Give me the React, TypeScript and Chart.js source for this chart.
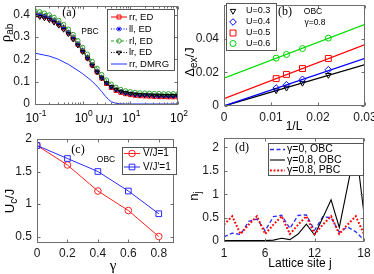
import React, { useEffect, useRef } from 'react';
import { Chart, registerables } from 'chart.js';
import { drawPoint } from 'chart.js/helpers';

Chart.register(...registerables);

const SANS = "'Liberation Sans', Arial, Helvetica, sans-serif";
const SERIF = "'Liberation Serif', 'Times New Roman', serif";
const FRAME = '#6e6e6e';
const INK = '#1a1a1a';
const W = 374;
const H = 274;
const YW = 30;
const XH = 25;

// ---------------- panel (a) ----------------
const uValues = [0.1, 0.126, 0.158, 0.2, 0.251, 0.316, 0.398, 0.501, 0.631, 0.794, 1, 1.26, 1.58, 2, 2.51, 3.16, 3.98, 5.01, 6.31, 7.94, 10, 12.6, 15.8, 20, 25.1, 31.6, 39.8, 50.1, 63.1, 79.4, 100];
const rhoRR = [0.402, 0.398, 0.392, 0.384, 0.373, 0.359, 0.341, 0.320, 0.296, 0.268, 0.238, 0.207, 0.175, 0.144, 0.116, 0.092, 0.074, 0.061, 0.052, 0.046, 0.042, 0.039, 0.037, 0.036, 0.035, 0.034, 0.033, 0.033, 0.032, 0.032, 0.032];
const rhoLL = [0.405, 0.401, 0.395, 0.387, 0.376, 0.362, 0.344, 0.323, 0.299, 0.271, 0.241, 0.210, 0.178, 0.147, 0.119, 0.095, 0.077, 0.064, 0.055, 0.049, 0.045, 0.042, 0.040, 0.039, 0.038, 0.037, 0.036, 0.036, 0.035, 0.035, 0.035];
const rhoRL = [0.418, 0.414, 0.408, 0.400, 0.389, 0.375, 0.357, 0.336, 0.312, 0.284, 0.254, 0.223, 0.191, 0.160, 0.132, 0.108, 0.089, 0.075, 0.065, 0.059, 0.055, 0.052, 0.050, 0.049, 0.048, 0.047, 0.047, 0.046, 0.046, 0.046, 0.046];
const rhoLR = [0.395, 0.391, 0.385, 0.377, 0.366, 0.352, 0.334, 0.314, 0.290, 0.263, 0.234, 0.204, 0.173, 0.143, 0.116, 0.094, 0.077, 0.065, 0.056, 0.050, 0.046, 0.043, 0.041, 0.040, 0.039, 0.038, 0.038, 0.037, 0.037, 0.037, 0.037];
const dmrgU = [0.1, 0.2, 0.3, 0.5, 0.8, 1, 1.5, 2, 2.5, 3, 3.5, 4, 5, 6, 8, 10, 30, 100];
const dmrgRho = [0.228, 0.215, 0.202, 0.178, 0.150, 0.136, 0.106, 0.080, 0.056, 0.035, 0.020, 0.010, 0.003, 0.001, 0, 0, 0, 0];
const aYTicks = [0, 0.1, 0.2, 0.3, 0.4];
const aYLabels = ['0', '0.1', '0.2', '0.3', '0.4'];
const aXTicks = [0.1, 1, 10, 100];
const aXExponents = ['-1', '0', '1', '2'];
const aLegend = ['rr, ED', 'll, ED', 'rl, ED', 'lr, ED', 'rr, DMRG'];

// ---------------- panel (b) ----------------
const invL = [0.0111, 0.0133, 0.0167, 0.0222];
const gapU03 = [0.0092, 0.0108, 0.0137, 0.0184];
const gapU04 = [0.0107, 0.0127, 0.0159, 0.0216];
const gapU05 = [0.0163, 0.0188, 0.0223, 0.0283];
const gapU06 = [0.0285, 0.0307, 0.0342, 0.0404];
const fitInvL = [0, 0.03];
const fitU03 = [0, 0.0246];
const fitU04 = [0, 0.0284];
const fitU05 = [0.0044, 0.0365];
const fitU06 = [0.0166, 0.0486];
const bXTicks = [0, 0.01, 0.02, 0.03];
const bXLabels = ['0', '0.01', '0.02', '0.03'];
const bYTicks = [0, 0.02, 0.04];
const bYLabels = ['0', '0.02', '0.04'];
const bLegend = ['U=0.3', 'U=0.4', 'U=0.5', 'U=0.6'];

// ---------------- panel (c) ----------------
const gammaValues = [0, 0.2, 0.4, 0.6, 0.8];
const ucVJ = [1.9, 1.6, 1.2, 0.9, 0.5];
const ucVJp = [1.9, 1.7, 1.5, 1.2, 0.85];
const cXTicks = [0, 0.2, 0.4, 0.6, 0.8];
const cXLabels = ['0', '0.2', '0.4', '0.6', '0.8'];
const cYTicks = [0.5, 1, 1.5, 2];
const cYLabels = ['0.5', '1', '1.5', '2'];
const cLegend = ['V/J=1', 'V/J\u2032=1'];

// ---------------- panel (d) ----------------
const sites = [1, 2, 3, 4, 5, 6, 7, 8, 9, 10, 11, 12, 13, 14, 15, 16, 17, 18];
const nG0OBC = [0.09, 0.17, 0.14, 0.42, 0.47, 0.22, 0.52, 0.55, 0.27, 0.55, 0.56, 0.23, 0.52, 0.5, 0.19, 0.3, 0.2, 0.02];
const nG08OBC = [0.01, 0.01, 0.01, 0.01, 0.01, 0.01, 0.02, 0.06, 0.03, 0.15, 0.36, 0.13, 0.5, 0.88, 0.29, 1.16, 2.03, 0.58];
const nG08PBC = [0.35, 0.53, 0.15, 0.35, 0.53, 0.15, 0.35, 0.53, 0.15, 0.35, 0.53, 0.15, 0.35, 0.53, 0.15, 0.35, 0.53, 0.15];
const dXTicks = [1, 6, 12, 18];
const dXLabels = ['1', '6', '12', '18'];
const dYTicks = [0, 0.5, 1, 1.5, 2];
const dYLabels = ['0', '0.5', '1', '1.5', '2'];
const dLegend = ['\u03b3=0, OBC', '\u03b3=0.8, OBC', '\u03b3=0.8, PBC'];

// ---------------- helpers ----------------
type Area = { left: number; top: number; right: number; bottom: number };
type Style = { color: string; width?: number; dash?: number[]; line?: boolean; marker?: string; r?: number; rot?: number };
type Part = { t: string; size: number; family?: string; dy?: number };

function pads(a: Area) {
  return { left: a.left - YW, top: a.top, right: W - a.right, bottom: H - a.bottom - XH };
}

function fixFit(axis: 'x' | 'y') {
  return (s: any) => {
    if (axis === 'x') s.height = XH; else s.width = YW;
    s.paddingLeft = 0; s.paddingRight = 0; s.paddingTop = 0; s.paddingBottom = 0;
  };
}

function linAxis(axis: 'x' | 'y', min: number, max: number, ticks: number[], labels: string[], padding: number) {
  return {
    type: 'linear', min, max,
    afterBuildTicks: (s: any) => { s.ticks = ticks.map((v) => ({ value: v })); },
    afterFit: fixFit(axis),
    grid: { display: false, drawTicks: false },
    border: { display: false },
    ticks: {
      autoSkip: false, maxRotation: 0, minRotation: 0, padding, color: INK,
      font: { family: SANS, size: 12 },
      callback: (v: number) => {
        const i = ticks.findIndex((t) => Math.abs(t - v) < 1e-9);
        return i >= 0 ? labels[i] : '';
      },
    },
  };
}

function ds(xs: number[], ys: number[], st: Style, order: number) {
  return {
    data: xs.map((x, i) => ({ x, y: ys[i] })),
    borderColor: st.color,
    borderWidth: st.width ?? 1,
    borderDash: st.dash ?? [],
    showLine: st.line !== false,
    pointStyle: st.marker ?? 'circle',
    pointRadius: st.marker ? st.r : 0,
    pointRotation: st.rot ?? 0,
    pointBorderColor: st.color,
    pointBackgroundColor: 'rgba(0,0,0,0)',
    pointBorderWidth: 1,
    fill: false,
    tension: 0,
    order,
  };
}

function drawRich(ctx: CanvasRenderingContext2D, parts: Part[], x: number, y: number, align: 'left' | 'center' = 'center', rotate = false) {
  ctx.save();
  ctx.fillStyle = '#000';
  ctx.textBaseline = 'middle';
  ctx.textAlign = 'left';
  const fonts = parts.map((p) => `${p.size}px ${p.family ?? SANS}`);
  let total = 0;
  const widths = parts.map((p, i) => { ctx.font = fonts[i]; const w = ctx.measureText(p.t).width; total += w; return w; });
  ctx.translate(x, y);
  if (rotate) ctx.rotate(-Math.PI / 2);
  let cx = align === 'left' ? 0 : -total / 2;
  parts.forEach((p, i) => { ctx.font = fonts[i]; ctx.fillText(p.t, cx, p.dy ?? 0); cx += widths[i]; });
  ctx.restore();
}

function drawFrame(chart: any, xTicks: number[], yTicks: number[], xMinor: number[] = []) {
  const { ctx, chartArea: a } = chart;
  const xs = chart.scales.x;
  const ys = chart.scales.y;
  const L = Math.round(a.left) + 0.5, R = Math.round(a.right) - 0.5, T = Math.round(a.top) + 0.5, B = Math.round(a.bottom) - 0.5;
  ctx.save();
  ctx.strokeStyle = FRAME;
  ctx.lineWidth = 1;
  ctx.setLineDash([]);
  ctx.strokeRect(L, T, R - L, B - T);
  ctx.beginPath();
  const xt = (v: number, len: number) => {
    const px = Math.round(xs.getPixelForValue(v)) + 0.5;
    ctx.moveTo(px, B); ctx.lineTo(px, B - len);
    ctx.moveTo(px, T); ctx.lineTo(px, T + len);
  };
  xTicks.forEach((v) => xt(v, 3));
  xMinor.forEach((v) => xt(v, 2));
  yTicks.forEach((v) => {
    const py = Math.round(ys.getPixelForValue(v)) + 0.5;
    ctx.moveTo(L, py); ctx.lineTo(L + 3, py);
    ctx.moveTo(R, py); ctx.lineTo(R - 3, py);
  });
  ctx.stroke();
  ctx.restore();
}

function drawLegend(ctx: CanvasRenderingContext2D, box: Area, labels: string[], styles: Style[], rows: number[], x0: number, x1: number, tx: number, size: number) {
  ctx.save();
  ctx.fillStyle = '#fff';
  ctx.fillRect(box.left, box.top, box.right - box.left, box.bottom - box.top);
  ctx.strokeStyle = '#555';
  ctx.lineWidth = 1;
  ctx.strokeRect(box.left + 0.5, box.top + 0.5, box.right - box.left, box.bottom - box.top);
  labels.forEach((label, i) => {
    const st = styles[i];
    const y = rows[i];
    if (st.line !== false) {
      ctx.strokeStyle = st.color;
      ctx.lineWidth = st.width ?? 1;
      ctx.setLineDash(st.dash ?? []);
      ctx.beginPath(); ctx.moveTo(x0, y); ctx.lineTo(x1, y); ctx.stroke();
      ctx.setLineDash([]);
    }
    if (st.marker) {
      ctx.strokeStyle = st.color;
      ctx.fillStyle = 'rgba(0,0,0,0)';
      ctx.lineWidth = 1;
      drawPoint(ctx, { pointStyle: st.marker, radius: st.r, rotation: st.rot ?? 0, borderWidth: 1 } as any, (x0 + x1) / 2, y);
    }
    ctx.fillStyle = '#000';
    ctx.font = `${size}px ${SANS}`;
    ctx.textBaseline = 'middle';
    ctx.textAlign = 'left';
    ctx.fillText(label, tx, y);
  });
  ctx.restore();
}

function buildConfig(area: Area, x: any, y: any, datasets: any[], decorate: (chart: any) => void): any {
  return {
    type: 'line',
    data: { datasets },
    options: {
      responsive: false,
      maintainAspectRatio: false,
      animation: false,
      events: [],
      layout: { padding: pads(area) },
      plugins: { legend: { display: false }, tooltip: { enabled: false } },
      scales: { x, y },
    },
    plugins: [{ id: 'decor', afterDraw: (chart: any) => decorate(chart) }],
  };
}

// ---------------- panel configs ----------------
function makeA() {
  const area = { left: 35, top: 6, right: 178, bottom: 105 };
  const styles: Style[] = [
    { color: '#ff0000', marker: 'rect', r: 2.8 },
    { color: '#0000ff', dash: [1, 1.5], marker: 'star', r: 2.4 },
    { color: '#2e9e2e', dash: [3, 2], marker: 'circle', r: 2.2 },
    { color: '#000000', dash: [1, 1.5], marker: 'triangle', r: 2.6, rot: 180 },
    { color: '#1f33ff' },
  ];
  const series = [rhoRR, rhoLL, rhoRL, rhoLR];
  const datasets = series.map((v, i) => ds(uValues, v, styles[i], 10 - i));
  datasets.push(ds(dmrgU, dmrgRho, styles[4], 1));
  const minor: number[] = [];
  [0.1, 1, 10].forEach((d) => { for (let k = 2; k <= 9; k++) minor.push(d * k); });
  const x = {
    type: 'logarithmic', min: 0.1, max: 100,
    afterBuildTicks: (s: any) => { s.ticks = aXTicks.map((v) => ({ value: v, major: true })); },
    afterFit: fixFit('x'),
    grid: { display: false, drawTicks: false },
    border: { display: false },
    ticks: { display: false },
  };
  const y = linAxis('y', -0.0045, 0.44, aYTicks, aYLabels, 5);
  return buildConfig(area, x, y, datasets, (chart) => {
    const ctx = chart.ctx;
    drawFrame(chart, aXTicks, aYTicks, minor);
    aXTicks.forEach((v, i) => {
      drawRich(ctx, [{ t: '10', size: 12 }, { t: aXExponents[i], size: 8.5, dy: -5 }], chart.scales.x.getPixelForValue(v) + 1, 119);
    });
    drawRich(ctx, [{ t: 'U/J', size: 11.5 }], 104, 120);
    drawRich(ctx, [{ t: '\u03c1', size: 15, family: SERIF }, { t: 'ab', size: 10, dy: 4 }], 6, 33, 'center', true);
    drawRich(ctx, [{ t: '(a)', size: 12, family: SERIF }], 69, 13);
    drawRich(ctx, [{ t: 'PBC', size: 8.5 }], 90, 32);
    drawLegend(ctx, { left: 107, top: 9, right: 174, bottom: 70 }, aLegend, styles, [17, 29, 41, 52.5, 64], 111, 127, 129, 9.5);
  });
}

function makeB() {
  const area = { left: 224, top: 2, right: 365, bottom: 106 };
  const mk: Style[] = [
    { color: '#000000', line: false, marker: 'triangle', r: 3.2, rot: 180 },
    { color: '#0000ff', line: false, marker: 'rectRot', r: 3.3 },
    { color: '#ff0000', line: false, marker: 'rect', r: 4.2 },
    { color: '#00d000', line: false, marker: 'circle', r: 3 },
  ];
  const lineColors = ['#000000', '#0000ff', '#ff0000', '#00dd00'];
  const fits = [fitU03, fitU04, fitU05, fitU06];
  const gaps = [gapU03, gapU04, gapU05, gapU06];
  const datasets: any[] = [];
  fits.forEach((f, i) => datasets.push(ds(fitInvL, f, { color: lineColors[i], width: 1.2 }, 20 - i)));
  gaps.forEach((g, i) => datasets.push(ds(invL, g, mk[i], 10 - i)));
  const x = linAxis('x', 0, 0.03, bXTicks, bXLabels, 4);
  const y = linAxis('y', 0, 0.06, bYTicks, bYLabels, 5);
  return buildConfig(area, x, y, datasets, (chart) => {
    const ctx = chart.ctx;
    drawFrame(chart, bXTicks, bYTicks);
    drawRich(ctx, [{ t: '1/L', size: 12 }], 294, 127);
    drawRich(ctx, [{ t: '\u0394', size: 13 }, { t: 'ex', size: 10, dy: 4 }, { t: '/J', size: 13 }], 190, 62, 'center', true);
    drawRich(ctx, [{ t: '(b)', size: 12, family: SERIF }], 285, 12);
    drawRich(ctx, [{ t: 'OBC', size: 8.5 }], 313, 12);
    drawRich(ctx, [{ t: '\u03b3=0.8', size: 8.5 }], 315, 23);
    drawLegend(ctx, { left: 226, top: 3, right: 276, bottom: 50 }, bLegend, mk, [11, 22, 33, 43.5], 229, 237, 246, 9);
  });
}

function makeC() {
  const area = { left: 37, top: 139, right: 174, bottom: 243 };
  const styles: Style[] = [
    { color: '#ff2020', marker: 'circle', r: 3.3 },
    { color: '#2b2bff', marker: 'rect', r: 4 },
  ];
  const datasets = [ds(gammaValues, ucVJ, styles[0], 2), ds(gammaValues, ucVJp, styles[1], 1)];
  const x = linAxis('x', 0, 0.9, cXTicks, cXLabels, 3);
  const y = linAxis('y', 0.4, 2.0, cYTicks, cYLabels, 5);
  return buildConfig(area, x, y, datasets, (chart) => {
    const ctx = chart.ctx;
    drawFrame(chart, cXTicks, cYTicks);
    drawRich(ctx, [{ t: '\u03b3', size: 15, family: SERIF }], 113, 266);
    drawRich(ctx, [{ t: 'U', size: 13 }, { t: 'c', size: 10, dy: 4 }, { t: '/J', size: 13 }], 10, 201, 'center', true);
    drawRich(ctx, [{ t: '(c)', size: 12, family: SERIF }], 78, 150);
    drawRich(ctx, [{ t: 'OBC', size: 8.5 }], 106, 160);
    drawLegend(ctx, { left: 122, top: 147, right: 176, bottom: 174 }, cLegend, styles, [153.5, 167], 124, 140, 143, 10);
  });
}

function makeD() {
  const area = { left: 224, top: 138, right: 364, bottom: 242 };
  const styles: Style[] = [
    { color: '#2b2bff', width: 1.3, dash: [4, 2.5] },
    { color: '#000000', width: 1.1 },
    { color: '#ff0000', width: 2, dash: [1.8, 1.8] },
  ];
  const datasets = [ds(sites, nG0OBC, styles[0], 3), ds(sites, nG08OBC, styles[1], 2), ds(sites, nG08PBC, styles[2], 1)];
  const x = linAxis('x', 1, 18, dXTicks, dXLabels, 4);
  const y = linAxis('y', -0.02, 2.2, dYTicks, dYLabels, 5);
  return buildConfig(area, x, y, datasets, (chart) => {
    const ctx = chart.ctx;
    drawFrame(chart, dXTicks, dYTicks);
    drawRich(ctx, [{ t: 'Lattice site j', size: 12 }], 300, 264);
    drawRich(ctx, [{ t: 'n', size: 13 }, { t: 'j', size: 10, dy: 4 }], 194, 196, 'center', true);
    drawRich(ctx, [{ t: '(d)', size: 12, family: SERIF }], 242, 148);
    drawLegend(ctx, { left: 268, top: 143, right: 363, bottom: 175 }, dLegend, styles, [149.5, 160, 170.5], 270, 285, 287, 10.5);
  });
}

function Panel({ make }: { make: () => any }) {
  const ref = useRef<HTMLCanvasElement>(null);
  useEffect(() => {
    const chart = new Chart(ref.current as HTMLCanvasElement, make());
    return () => chart.destroy();
  }, [make]);
  return (
    <canvas
      ref={ref}
      width={W}
      height={H}
      style={{ position: 'absolute', left: 0, top: 0, width: W, height: H }}
    />
  );
}

export default function App() {
  useEffect(() => {
    document.body.style.margin = '0';
  }, []);
  return (
    <div style={{ position: 'relative', width: W, height: H, background: '#fff', overflow: 'hidden' }}>
      <Panel make={makeA} />
      <Panel make={makeB} />
      <Panel make={makeC} />
      <Panel make={makeD} />
    </div>
  );
}
